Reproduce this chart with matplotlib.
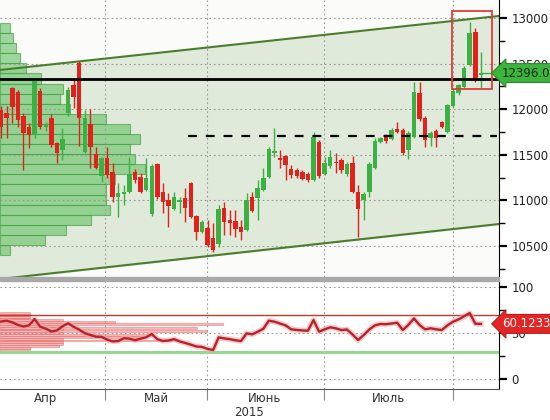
import matplotlib
matplotlib.use('Agg')
import matplotlib.pyplot as plt
from matplotlib.patches import Rectangle

# daily OHLC, one entry per session
opens = [11991, 11955, 12229, 12192, 11925, 11801, 11717, 12203, 11800, 11907,
         11626, 11553, 11955, 12265, 12510, 11534, 11838, 11509, 11268, 11462,
         11315, 11040, 11070, 11096, 11315, 11260, 11114, 10847, 11396, 11096,
         11004, 10902, 10985, 11023, 11194, 10829, 10654, 10697, 10588, 10522,
         10917, 10785, 10774, 10708, 10675, 11037, 11026, 11114, 11257, 11520,
         11465, 11487, 11344, 11333, 11311, 11290, 11224, 11637, 11290, 11377,
         11420, 11443, 11290, 11407, 11096, 11004, 11096, 11352, 11644, 11692,
         11670, 11783, 11772, 11553, 11699, 12174, 11900, 11681, 11761, 11856,
         11750, 12035, 12177, 12240, 12485, 12843, 12375]
highs = [12030, 12040, 12247, 12210, 11958, 11849, 12320, 12230, 11860, 11950,
         11640, 11794, 12240, 12342, 12528, 11990, 12000, 11590, 11480, 11590,
         11407, 11187, 11170, 11480, 11340, 11300, 11465, 11400, 11410, 11187,
         11078, 11096, 11040, 11133, 11200, 10840, 10780, 10785, 10752, 10950,
         10982, 10895, 10895, 10785, 11081, 11092, 11224, 11355, 11586, 11790,
         11553, 11500, 11388, 11360, 11330, 11310, 11753, 11665, 11480, 11553,
         11516, 11460, 11420, 11487, 11169, 11090, 11420, 11680, 11700, 11728,
         11794, 11863, 11790, 11760, 12302, 12302, 11920, 11760, 11780, 11870,
         12060, 12220, 12280, 12470, 12960, 12887, 12627]
lows = [11680, 11680, 11849, 11810, 11333, 11575, 11684, 11780, 11760, 11580,
        11410, 11443, 11920, 12013, 11597, 11520, 11352, 11340, 11200, 11250,
        10986, 10821, 10950, 11080, 11190, 11078, 11100, 10830, 11020, 10859,
        10712, 10890, 10860, 10767, 10810, 10566, 10640, 10489, 10434, 10489,
        10621, 10621, 10599, 10566, 10660, 10870, 10785, 11100, 11240, 11476,
        11355, 11224, 11246, 11250, 11220, 11200, 11210, 11250, 11280, 11360,
        11297, 11297, 11270, 11080, 10602, 10785, 11040, 11340, 11630, 11626,
        11660, 11740, 11500, 11450, 11680, 11870, 11589, 11600, 11589, 11790,
        11740, 12020, 12160, 12230, 12470, 12300, 12232]
closes = [11805, 11900, 12027, 11882, 11742, 11714, 12309, 11801, 11830, 11607,
          11523, 11670, 12210, 12137, 11900, 11900, 11582, 11352, 11462, 11279,
          11040, 11085, 11096, 11289, 11224, 11096, 11242, 11377, 11040, 10986,
          10939, 11034, 11000, 10913, 10821, 10657, 10763, 10511, 10456, 10906,
          10763, 10752, 10686, 10653, 11004, 10884, 11136, 11246, 11564, 11540,
          11443, 11388, 11279, 11268, 11235, 11224, 11692, 11268, 11407, 11473,
          11410, 11333, 11399, 11096, 10902, 11070, 11399, 11655, 11681, 11655,
          11772, 11753, 11516, 11736, 12192, 11889, 11662, 11743, 11681, 11801,
          12046, 12203, 12265, 12455, 12832, 12320, 12396]

rsi = [62.7, 63.6, 61.8, 59.0, 57.3, 58.5, 65.4, 57.0, 55.0, 51.8,
       53.0, 57.5, 60.7, 57.0, 53.8, 50.0, 48.0, 46.2, 46.0, 43.0,
       41.0, 41.4, 44.5, 44.0, 42.3, 44.0, 45.5, 49.1, 43.5, 41.5,
       42.0, 43.5, 41.0, 39.3, 37.5, 35.5, 35.0, 32.8, 31.6, 45.4,
       44.3, 43.5, 42.2, 41.4, 49.8, 48.7, 51.6, 54.8, 63.6, 62.5,
       60.5, 58.5, 54.2, 53.5, 53.0, 52.7, 64.3, 51.6, 54.2, 56.4,
       55.3, 53.4, 54.0, 48.5, 42.5, 48.0, 54.0, 58.5, 60.0, 59.8,
       60.5, 61.4, 53.4, 59.0, 66.1, 59.0, 54.2, 55.3, 54.2, 53.4,
       58.5, 62.5, 65.0, 68.5, 72.0, 60.3, 60.1233]

# volume-at-price profile (left side of the price panel)
profile_prices = [12890, 12779, 12669, 12558, 12447, 12336, 12226, 12115, 12004, 11894,
                  11783, 11672, 11562, 11451, 11340, 11230, 11119, 11008, 10898, 10787,
                  10676, 10566, 10455]
profile_vol = [10, 13, 16, 20, 26, 41, 63, 60, 70, 106, 130, 140, 130, 135, 145,
               115, 106, 106, 110, 91, 66, 45, 10]

# RSI distribution profile
rsi_levels = [72, 70, 68, 66, 64, 62, 60, 58, 56, 54, 52, 50, 48, 46, 44, 42, 40, 38, 36, 34, 32]
rsi_profile = [15, 15, 15, 15, 32, 58, 113, 32, 100, 32, 105, 32, 77, 72, 32, 90, 32, 32, 30, 15, 15]

channel_top = [12430, 13022]
channel_bottom = [10138, 10741]
resistance = 12330
support_dashed = 11706
rsi_upper, rsi_lower = 70, 30

month_bounds = [18.6, 36.9, 57.9, 81.0]
month_centers = [7.9, 27.8, 47.3, 69.5]
month_names = ['Апр', 'Май', 'Июнь', 'Июль']

green = '#3cb043'
red = '#e3211c'
xlim = (-0.2, 89.25)

fig = plt.figure(figsize=(5.5, 4.2), dpi=100)
ax = fig.add_axes([0, 1 - 277 / 420, 499 / 550, 277 / 420])
ax2 = fig.add_axes([0, 1 - 389 / 420, 499 / 550, 108 / 420])

# separator band between panels
fig.patches.append(Rectangle((0, 1 - 281 / 420), 499 / 550, 4 / 420, transform=fig.transFigure,
                             color='#a9a9a9', zorder=0))

# ---------- price panel ----------
ax.set_facecolor('#fbfcfa')
ax.set_xlim(*xlim)
ax.set_ylim(10160, 13197)
ax.fill_between(xlim, channel_bottom, channel_top, color='#dfeada', zorder=0)
ax.plot(xlim, channel_top, color='#4b7d2b', lw=1.5, zorder=4)
ax.plot(xlim, channel_bottom, color='#4b7d2b', lw=1.5, zorder=4)

scale = 26.0 / max(profile_vol)
ax.barh(profile_prices, [v * scale for v in profile_vol], height=110.7, left=xlim[0],
        color='#6cc46c', alpha=0.65, edgecolor='#3f9e3f', linewidth=0.8, zorder=1)

idx = list(range(len(opens)))
cols = [green if c >= o else red for o, c in zip(opens, closes)]
ax.vlines(idx, lows, highs, colors=cols, lw=1, zorder=5)
ax.bar(idx, [max(abs(c - o), 12) for o, c in zip(opens, closes)],
       bottom=[min(o, c) for o, c in zip(opens, closes)], width=0.8, color=cols, zorder=6)

ax.axhline(resistance, color='black', lw=2, zorder=7)
ax.hlines(support_dashed, 33.5, 88.9, colors='black', lw=1.6, linestyles=(0, (4, 4)), zorder=7)
ax.hlines(closes[-1], idx[-1], xlim[1], colors=green, lw=1, zorder=7)

ax.add_patch(Rectangle((80.8, 12221), 7.2, 856, fill=False, edgecolor='#e33a3a', lw=1.3, zorder=8))

ax.set_yticks([10500, 11000, 11500, 12000, 12500, 13000])
ax.set_yticks([10250, 10750, 11250, 11750, 12250, 12750], minor=True)
ax.yaxis.tick_right()
ax.tick_params(axis='y', which='major', direction='out', length=6, width=1.6, labelsize=8.5,
               colors='black', labelcolor='#222222', pad=3)
ax.tick_params(axis='y', which='minor', direction='out', length=4, width=1)
ax.set_xticks(month_bounds)
ax.tick_params(axis='x', length=0, labelbottom=False)
ax.grid(True, color='#9a9a9a', lw=0.8, linestyle=(0, (1.5, 2.5)))
ax.set_axisbelow(False)
for s in ['top', 'left', 'bottom']:
    ax.spines[s].set_visible(False)
ax.spines['right'].set_color('black')

ax.text(1.006, closes[-1], '%.1f' % closes[-1], transform=ax.get_yaxis_transform(),
        ha='left', va='center', fontsize=8.5, color='#0c2a0c', zorder=10, clip_on=False,
        bbox=dict(boxstyle='larrow,pad=0.25', fc='#3db53d', ec='#2a8a2a', lw=0.8))

# ---------- RSI panel ----------
ax2.set_facecolor('white')
ax2.set_xlim(*xlim)
ax2.set_ylim(-10.9, 106.9)
rscale = 40.0 / max(rsi_profile)
ax2.barh(rsi_levels, [v * rscale for v in rsi_profile], height=1.9, left=xlim[0],
         color='#f58a8a', alpha=0.6, edgecolor='#e56060', linewidth=0.5, zorder=1)
ax2.axhline(rsi_upper, color='#c0392b', lw=1, zorder=2)
ax2.axhline(rsi_lower, color='#94d894', lw=2.2, zorder=2)
ax2.plot(idx, rsi, color='#f4a5a5', lw=4, alpha=0.6, zorder=3)
ax2.plot(idx, rsi, color='#b8232b', lw=1.7, zorder=4)

ax2.set_yticks([0, 50, 100])
ax2.set_yticks([25, 75], minor=True)
ax2.yaxis.tick_right()
ax2.tick_params(axis='y', which='major', direction='out', length=6, width=1.6, labelsize=8.5,
                colors='black', labelcolor='#222222', pad=3)
ax2.tick_params(axis='y', which='minor', direction='out', length=4, width=1)
ax2.set_xticks(month_bounds)
ax2.set_xticks(month_centers, minor=True)
ax2.set_xticklabels(month_names, minor=True, fontsize=8.5, color='#333333')
ax2.tick_params(axis='x', which='major', direction='out', length=8, width=0.8,
                colors='#888888', labelbottom=False)
ax2.tick_params(axis='x', which='minor', length=0, pad=2)
ax2.grid(True, color='#9a9a9a', lw=0.8, linestyle=(0, (1.5, 2.5)))
ax2.spines['top'].set_visible(False)
ax2.spines['left'].set_visible(False)
ax2.spines['right'].set_color('black')
ax2.spines['bottom'].set_color('#555555')

ax2.text(1.006, rsi[-1], '%.4f' % rsi[-1], transform=ax2.get_yaxis_transform(),
         ha='left', va='center', fontsize=8.5, color='white', zorder=10, clip_on=False,
         bbox=dict(boxstyle='larrow,pad=0.25', fc='#e42525', ec='#c01818', lw=0.8))

fig.text(249 / 550, 1 - 413 / 420, '2015', ha='center', va='center', fontsize=8.5, color='#333333')

fig.savefig('out.png', dpi=100)
